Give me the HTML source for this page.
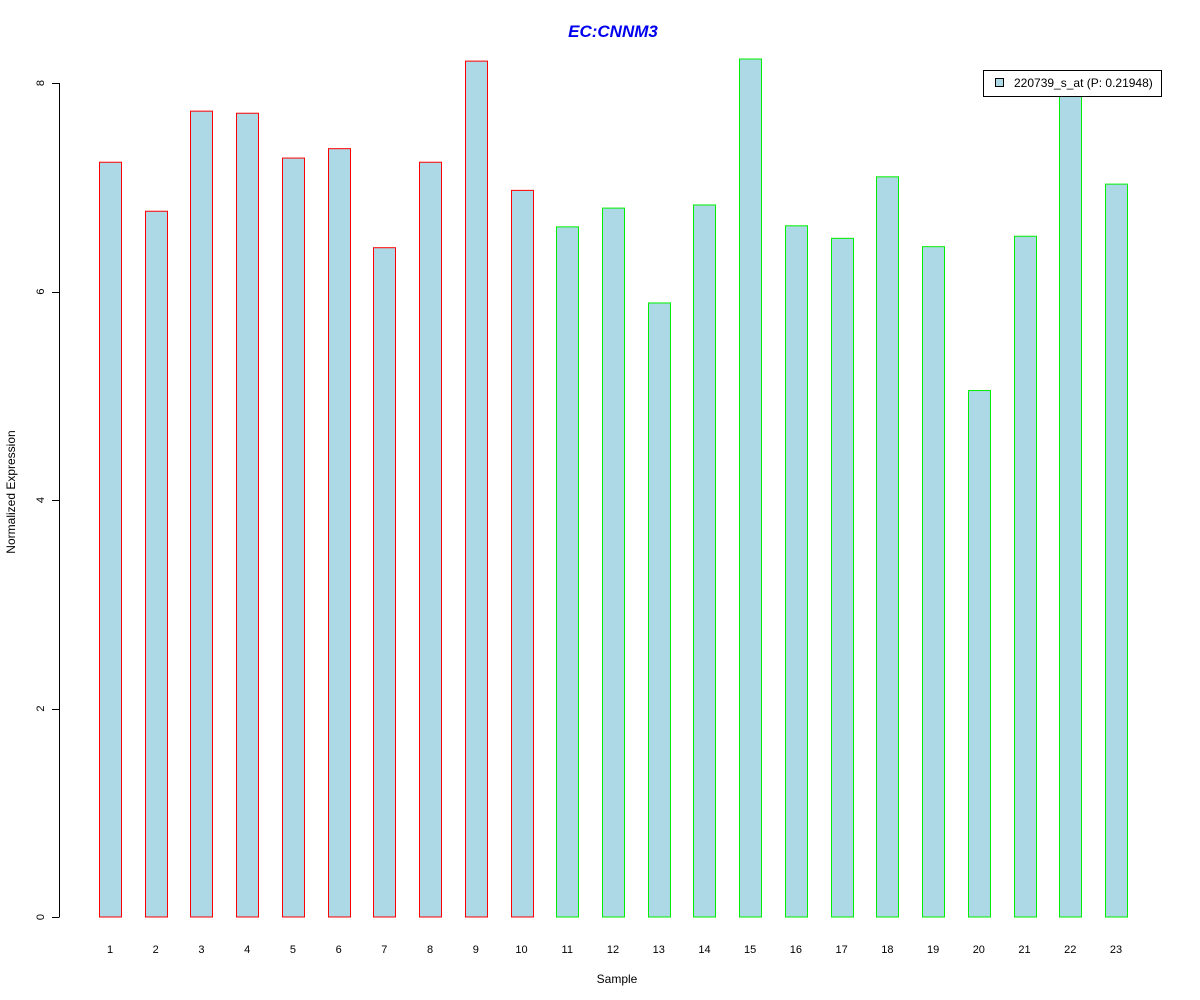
<!DOCTYPE html>
<html><head><meta charset="utf-8"><style>
html,body{margin:0;padding:0;background:#fff;}
svg{display:block;font-family:"Liberation Sans",Arial,sans-serif;}
</style></head><body>
<svg id="chart" width="1200" height="1000">
<text x="613" y="37" text-anchor="middle" font-size="17" font-weight="bold" font-style="italic" fill="#0000ee">EC:CNNM3</text>
<g id="bars"></g>
<g id="yaxis"></g>
<g id="xlabels"></g>
<text x="617" y="983" text-anchor="middle" font-size="12">Sample</text>
<text transform="translate(15,492) rotate(-90)" text-anchor="middle" font-size="12">Normalized Expression</text>
<g>
<rect x="983.5" y="70.5" width="178" height="26" fill="#fff" stroke="#000"/>
<rect x="995.5" y="78.5" width="8" height="8" fill="#add8e6" stroke="#000"/>
<text x="1014" y="87" font-size="12">220739_s_at (P: 0.21948)</text>
</g>
</svg>
<script>
const categories = ["1","2","3","4","5","6","7","8","9","10","11","12","13","14","15","16","17","18","19","20","21","22","23"];
const values = [7.24,6.77,7.73,7.71,7.28,7.37,6.42,7.24,8.21,6.97,6.62,6.80,5.89,6.83,8.23,6.63,6.51,7.10,6.43,5.05,6.53,7.95,7.03];
const groups = ["a","a","a","a","a","a","a","a","a","a","b","b","b","b","b","b","b","b","b","b","b","b","b"];
const yTicks = [0,2,4,6,8];
const ns = "http://www.w3.org/2000/svg";
const y = v => 917 - v * 104.25;
const x = i => 110 + i * (1116 - 110) / 22;
const bars = document.getElementById('bars');
const xl = document.getElementById('xlabels');
categories.forEach((c, i) => {
  const r = document.createElementNS(ns, 'rect');
  
  
  const top = y(values[i]);
  r.setAttribute('x', Math.round(x(i) - 11) + 0.5);
  r.setAttribute('y', top);
  r.setAttribute('width', 22);
  r.setAttribute('height', 917 - top);
  r.setAttribute('fill', '#add8e6');
  r.setAttribute('stroke', groups[i] === 'a' ? '#ff0000' : '#00ee00');
  bars.appendChild(r);
  const t = document.createElementNS(ns, 'text');
  
  
  t.setAttribute('x', x(i));
  t.setAttribute('y', 953);
  t.setAttribute('text-anchor', 'middle');
  t.setAttribute('font-size', '11');
  t.textContent = c;
  xl.appendChild(t);
});
const ya = document.getElementById('yaxis');
const ax = document.createElementNS(ns, 'line');


ax.setAttribute('x1', 59.5); ax.setAttribute('x2', 59.5);
ax.setAttribute('y1', y(0)); ax.setAttribute('y2', y(8));
ax.setAttribute('stroke', '#000');
ya.appendChild(ax);
yTicks.forEach(v => {
  const l = document.createElementNS(ns, 'line');
  
  
  l.setAttribute('x1', 52); l.setAttribute('x2', 59.5);
  l.setAttribute('y1', Math.round(y(v)) + 0.5); l.setAttribute('y2', Math.round(y(v)) + 0.5);
  l.setAttribute('stroke', '#000');
  ya.appendChild(l);
  const t = document.createElementNS(ns, 'text');
  
  
  t.setAttribute('transform', 'translate(44,' + y(v) + ') rotate(-90)');
  t.setAttribute('text-anchor', 'middle');
  t.setAttribute('font-size', '11');
  t.textContent = v;
  ya.appendChild(t);
});
</script>
</body></html>
